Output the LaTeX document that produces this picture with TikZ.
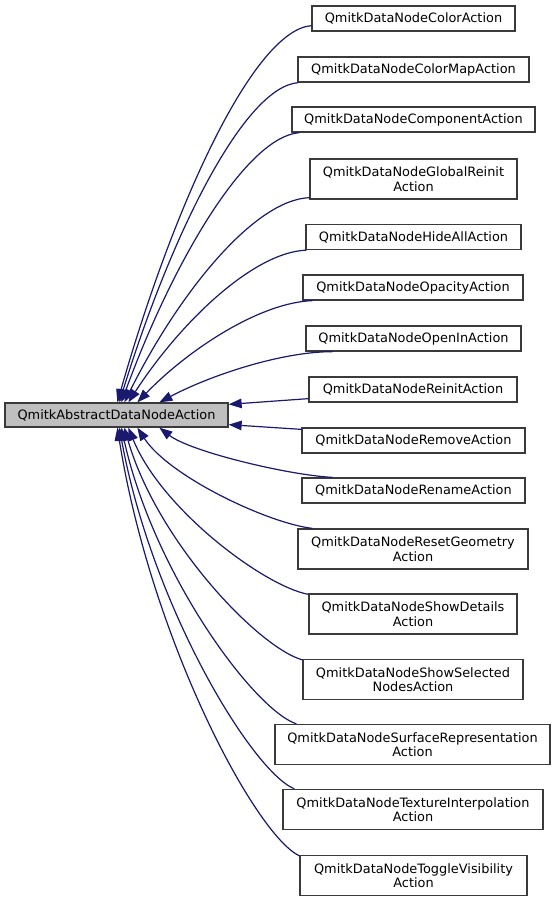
\documentclass[tikz,border=0pt]{standalone}
\usepackage{fontspec}
\setmainfont{DejaVu Sans}
\usetikzlibrary{arrows.meta,calc}
\definecolor{edgeblue}{HTML}{191970}
\definecolor{boxline}{HTML}{3A3A3A}
\definecolor{basefill}{HTML}{BFBFBF}
\begin{document}
\begin{tikzpicture}[x=1pt,y=-1pt,
  box/.style={draw=boxline, fill=white, line width=1.3pt, inner sep=0pt, align=center,
    font=\fontsize{12.9}{14.5}\selectfont},
  single/.style={box, minimum height=25pt},
  double/.style={box, minimum height=40pt},
  basebox/.style={box, fill=basefill, minimum height=24pt},
  edge/.style={draw=edgeblue, line width=1.2pt, -{Triangle[length=13pt,width=9.5pt]}}]
\useasboundingbox[fill=white] (0,0) rectangle (556,902);
\node[basebox, minimum width=223pt] (base) at (116.5,415) {QmitkAbstractDataNodeAction};
\node[single, minimum width=203pt] (n1) at (413.5,18.5) {QmitkDataNodeColorAction};
\node[single, minimum width=231pt] (n2) at (413.5,69.5) {QmitkDataNodeColorMapAction};
\node[single, minimum width=243pt] (n3) at (413.5,119.5) {QmitkDataNodeComponentAction};
\node[double, minimum width=207pt] (n4) at (413.5,179) {QmitkDataNodeGlobalReinit\\Action};
\node[single, minimum width=215pt] (n5) at (413.5,237) {QmitkDataNodeHideAllAction};
\node[single, minimum width=220pt] (n6) at (413,287.5) {QmitkDataNodeOpacityAction};
\node[single, minimum width=215pt] (n7) at (413.5,338.5) {QmitkDataNodeOpenInAction};
\node[single, minimum width=208pt] (n8) at (413,389.5) {QmitkDataNodeReinitAction};
\node[single, minimum width=223pt] (n9) at (413.5,440.5) {QmitkDataNodeRemoveAction};
\node[single, minimum width=223pt] (n10) at (413.5,490.5) {QmitkDataNodeRenameAction};
\node[double, minimum width=230pt] (n11) at (413,549) {QmitkDataNodeResetGeometry\\Action};
\node[double, minimum width=208pt] (n12) at (413,614) {QmitkDataNodeShowDetails\\Action};
\node[double, minimum width=220pt] (n13) at (413,679.5) {QmitkDataNodeShowSelected\\NodesAction};
\node[double, minimum width=275pt] (n14) at (412.5,744.5) {QmitkDataNodeSurfaceRepresentation\\Action};
\node[double, minimum width=260pt] (n15) at (413,809.5) {QmitkDataNodeTextureInterpolation\\Action};
\node[double, minimum width=227pt] (n16) at (413.5,875.5) {QmitkDataNodeToggleVisibility\\Action};
% upper edges
\draw[edge] ($(n1.south west)+(0,-6)$) .. controls (253.8,30.3) and (174.3,202.7) .. ($(base.north west)+(113,0)$);
\draw[edge] ($(n2.south west)+(1,0)$) .. controls (244.6,86.5) and (171.6,232.9) .. ($(base.north west)+(115,0)$);
\draw[edge] ($(n3.south west)+(8,0)$) .. controls (246.6,136.8) and (173.6,259.9) .. ($(base.north west)+(117,0)$);
\draw[edge] ($(n4.south west)+(0,-2)$) .. controls (253.8,199.9) and (178.4,293.8) .. ($(base.north west)+(120,0)$);
\draw[edge] ($(n5.south west)+(1,0)$) .. controls (253.6,252.1) and (180.6,321.9) .. ($(base.north west)+(124,0)$);
\draw[edge] ($(n6.south west)+(10,0)$) .. controls (260.5,302.4) and (188.8,349) .. ($(base.north west)+(133,0)$);
\draw[edge] ($(n7.south west)+(27,0)$) .. controls (281.1,351.7) and (210.2,375.4) .. ($(base.north west)+(155,0)$);
% straight edges
\draw[edge] ($(n8.south west)+(0,-4)$) -- ($(base.north east)+(0,2)$);
\draw[edge] ($(n9.north west)+(0,2)$) -- ($(base.south east)+(0,-3)$);
% lower edges
\draw[edge] ($(n10.north west)+(31,0)$) .. controls (289.8,475.3) and (191.1,452) .. ($(base.south west)+(155,0)$);
\draw[edge] ($(n11.north west)+(15,0)$) .. controls (269.3,523.6) and (169.5,477) .. ($(base.south west)+(133,0)$);
\draw[edge] ($(n12.north west)+(0,1)$) .. controls (264,586.1) and (161.4,509.3) .. ($(base.south west)+(124,0)$);
\draw[edge] ($(n13.north west)+(0,1)$) .. controls (258.5,647.6) and (157,541.2) .. ($(base.south west)+(120,0)$);
\draw[edge] ($(n14.north west)+(22,0)$) .. controls (253.3,709.2) and (153.5,573) .. ($(base.south west)+(117,0)$);
\draw[edge] ($(n15.north west)+(12,0)$) .. controls (251.3,770.8) and (151.5,604.9) .. ($(base.south west)+(115,0)$);
\draw[edge] ($(n16.north west)+(0,1)$) .. controls (254.5,834.2) and (150.8,637.7) .. ($(base.south west)+(113,0)$);
\end{tikzpicture}
\end{document}
